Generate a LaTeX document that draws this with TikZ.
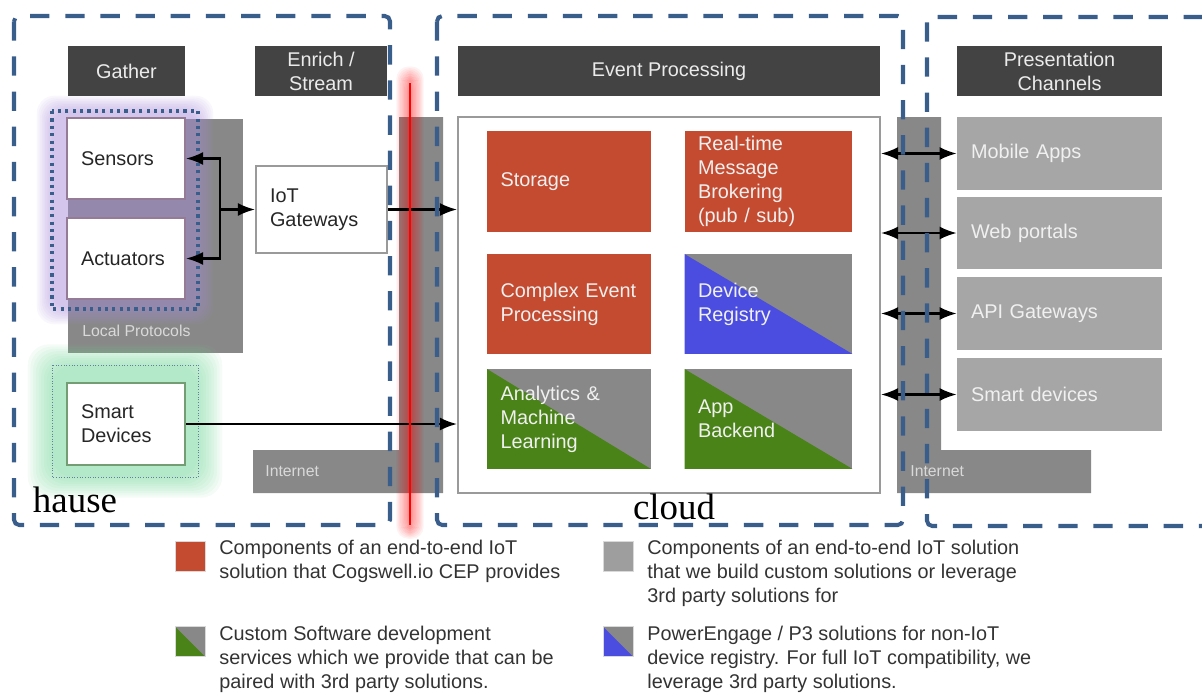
\documentclass[tikz,border=0pt]{standalone}
\usepackage{fontspec}
\setmainfont{Liberation Sans}
\newfontfamily\capfont{Liberation Serif}
\usepackage{tikz}
\usetikzlibrary{positioning,arrows.meta}

\definecolor{hdrgray}{HTML}{434343}
\definecolor{blockgray}{HTML}{888888}
\definecolor{compred}{HTML}{C44B30}
\definecolor{compblue}{HTML}{4B4DE0}
\definecolor{compgreen}{HTML}{4A8317}
\definecolor{chgray}{HTML}{A6A6A6}
\definecolor{zoneblue}{HTML}{3A5E8C}
\definecolor{legtext}{HTML}{333333}
\definecolor{glowpurple}{HTML}{A88AD8}
\definecolor{glowgreen}{HTML}{6CD494}
\definecolor{boxline}{HTML}{9A9A9A}

\tikzset{
  txt/.style={font=\fontsize{11.3}{13.6}\selectfont},
  header/.style={txt, fill=hdrgray, text=white!92!black, minimum height=1cm, align=center},
  comp/.style={txt, text=white!94!black, inner xsep=0.27cm, align=left, minimum height=2.02cm},
  chbox/.style={txt, fill=chgray, text=white!94!black, inner xsep=0.28cm, text width=3.54cm, align=left, minimum height=1.46cm},
  devbox/.style={txt, fill=white, draw=boxline, line width=1.2pt, text=black!85, inner xsep=0.28cm, align=left},
  halfgreen/.style={fill=blockgray, path picture={\fill[compgreen] (path picture bounding box.north west) -- (path picture bounding box.south west) -- (path picture bounding box.south east) -- cycle;}},
  halfblue/.style={fill=blockgray, path picture={\fill[compblue] (path picture bounding box.north west) -- (path picture bounding box.south west) -- (path picture bounding box.south east) -- cycle;}},
  arr/.style={-{Latex[length=3.4mm,width=2.6mm]}, line width=1.2pt},
  darr/.style={{Latex[length=3.4mm,width=2.6mm]}-{Latex[length=3.4mm,width=2.6mm]}, line width=1.2pt},
  zone/.style={draw=zoneblue, line width=2.3pt, dash pattern=on 11pt off 9pt, rounded corners=3pt},
  netlabel/.style={font=\fontsize{9}{11}\selectfont, text=white!85!black, anchor=west, inner sep=0},
  legsq/.style={minimum size=0.6cm, inner sep=0, draw=white!85!black, line width=0.4pt},
  legtxt/.style={txt, text=legtext, anchor=west, align=left, inner sep=0},
  bigcap/.style={font=\capfont\fontsize{21}{24}\selectfont, inner sep=0}
}

\begin{document}
\begin{tikzpicture}[x=0.02cm, y=-0.02cm]
  \useasboundingbox (0,0) rectangle (1202,693);
  \clip (0,0) rectangle (1202,693);
  % gray carrier blocks
  \fill[blockgray] (68,119) rectangle (243,353);
  \fill[blockgray] (399,117) -- (443,117) -- (443,493) -- (253,493) -- (253,450) -- (399,450) -- cycle;
  \fill[blockgray] (897,117) -- (941,117) -- (941,450) -- (1091,450) -- (1091,493) -- (897,493) -- cycle;
  \node[netlabel] at(82,331)(lproto){Local Protocols};
  \node[netlabel] at(265,471)(netl){Internet};
  \node[netlabel] at(910,471)(netr){Internet};
  % glows
  \foreach \g in {0,...,9}
    \fill[glowpurple, opacity=0.065, rounded corners=10pt] ({52-\g*1.7},{111-\g*1.7}) rectangle ({198+\g*1.7},{309+\g*1.7});
  \foreach \g in {0,...,9}
    \fill[glowgreen, opacity=0.07, rounded corners=12pt] ({52-\g*2.7},{365-\g*2.3}) rectangle ({198+\g*2.7},{477+\g*2.3});
  \foreach \g in {0,...,9}
    \fill[red, opacity=0.05, rounded corners=7pt] ({408-\g*1.3},{80-\g*1.5}) rectangle ({412+\g*1.3},{528+\g*1.2});
  % headers
  \node[header, minimum width=2.34cm] at(126.5,71)(gather){Gather};
  \node[header, minimum width=2.64cm] at(321,71)(enrich){Enrich /\\Stream};
  \node[header, minimum width=8.44cm] at(669,71)(evproc){Event Processing};
  \node[header, minimum width=4.1cm] at(1059.5,71)(presch){Presentation\\Channels};
  % house side
  \draw[zoneblue, line width=1.8pt, dash pattern=on 1.8pt off 2.4pt] (52,111) rectangle (198,309);
  \node[devbox, draw=boxline!80!violet, text width=1.8cm, minimum height=1.62cm] at(126,158.5)(sensors){Sensors};
  \node[devbox, draw=boxline!80!violet, text width=1.8cm, minimum height=1.62cm] at(126,258.5)(actuators){Actuators};
  \draw[zoneblue!80, densely dotted, line width=0.5pt] (52,365) rectangle (198,477);
  \node[devbox, draw=green!30!black!55, line width=1.6pt, text width=1.8cm, minimum height=1.64cm] at(126,424)(smartdev){Smart\\Devices};
  \node[devbox, text width=2.06cm, minimum height=1.74cm] at(321.5,209.5)(iotgw){IoT\\Gateways};
  % event processing
  \node[draw=boxline, line width=1.2pt, fill=white, minimum width=8.44cm, minimum height=7.52cm] at(669,305)(evbox){};
  \node[comp, fill=compred, text width=2.74cm] at(569,181.5)(storage){Storage};
  \node[comp, fill=compred, text width=2.82cm] at(768.5,181.5)(rtmsg){Real-time\\Message\\Brokering\\(pub / sub)};
  \node[comp, fill=compred, text width=2.74cm, minimum height=2cm] at(569,304)(cep){Complex Event\\Processing};
  \node[comp, halfblue, text width=2.82cm, minimum height=2cm] at(768.5,304)(devreg){Device\\Registry};
  \node[comp, halfgreen, text width=2.74cm, minimum height=2cm] at(569,419)(analytics){Analytics \&\\Machine\\Learning};
  \node[comp, halfgreen, text width=2.82cm, minimum height=2cm] at(768.5,419)(appback){App\\Backend};
  % presentation channels
  \node[chbox] at(1059.5,153.5)(mobile){Mobile Apps};
  \node[chbox] at(1059.5,233)(webport){Web portals};
  \node[chbox] at(1059.5,313.5)(apigw){API Gateways};
  \node[chbox] at(1059.5,394.5)(smartdv){Smart devices};
  % connectors
  \coordinate (fork) at (220,209.5);
  \draw[arr] (fork) |- (sensors.east);
  \draw[arr] (fork) |- (actuators.east);
  \draw[arr] (fork) -- (iotgw.west);
  \draw[arr] (iotgw.east) -- (iotgw.east -| evbox.west);
  \draw[arr] (smartdev.east) -- (smartdev.east -| evbox.west);
  \draw[darr] (mobile.west -| evbox.east) -- (mobile.west);
  \draw[darr] (webport.west -| evbox.east) -- (webport.west);
  \draw[darr] (apigw.west -| evbox.east) -- (apigw.west);
  \draw[darr] (smartdv.west -| evbox.east) -- (smartdv.west);
  % boundary line
  \draw[red, line width=1.2pt] (410,83) -- (410,525);
  % zones
  \draw[zone] (14,16) rectangle (390,525);
  \draw[zone] (437,16) rectangle (903,525);
  \draw[zone] (927,17) rectangle (1230,526);
  \node[bigcap] at(75,500)(hause){hause};
  \node[bigcap] at(674,507)(cloud){cloud};
  % legend
  \node[legsq, fill=compred] at(190,556)(leg1){};
  \node[legtxt] at(219,561)(leg1t){Components of an end-to-end IoT\\solution that Cogswell.io CEP provides};
  \node[legsq, fill=chgray!95!black] at(618,556.5)(leg2){};
  \node[legtxt] at(647,573)(leg2t){Components of an end-to-end IoT solution\\that we build custom solutions or leverage\\3rd party solutions for};
  \node[legsq, halfgreen] at(190,641.5)(leg3){};
  \node[legtxt] at(219,659)(leg3t){Custom Software development\\services which we provide that can be\\paired with 3rd party solutions.};
  \node[legsq, halfblue] at(618,641.5)(leg4){};
  \node[legtxt] at(647,659)(leg4t){PowerEngage / P3 solutions for non-IoT\\device registry. For full IoT compatibility, we\\leverage 3rd party solutions.};
\end{tikzpicture}
\end{document}
